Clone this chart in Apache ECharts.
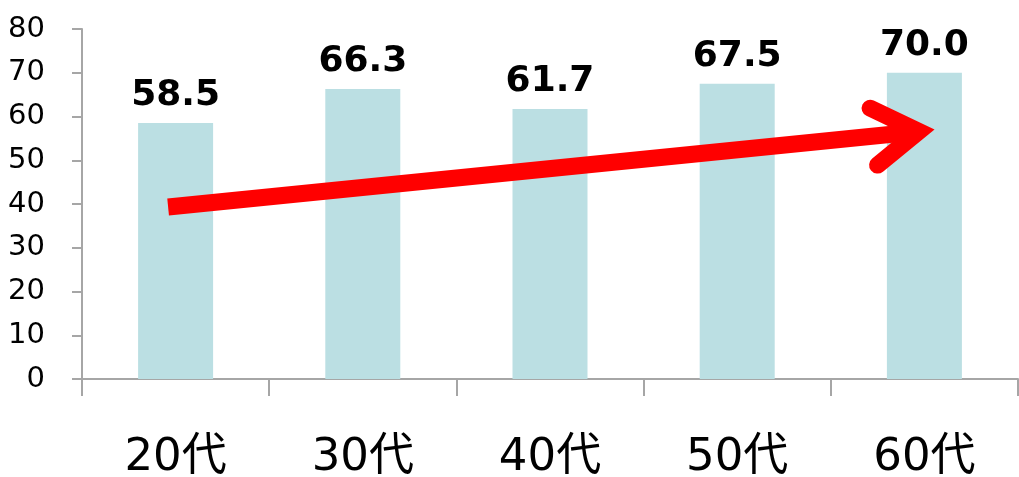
<!DOCTYPE html>
<html>
<head>
<meta charset="utf-8">
<script src="https://cdn.jsdelivr.net/npm/echarts@6/dist/echarts.min.js"></script>
<style>
  html, body { margin: 0; padding: 0; background: #fff; }
  #chart { width: 1019px; height: 477px; }
</style>
</head>
<body>
<div id="chart"></div>
<script>
var ageGroups = ['20代', '30代', '40代', '50代', '60代'];
var rateValues = [58.5, 66.3, 61.7, 67.5, 70.0];
var yTicks = [0, 10, 20, 30, 40, 50, 60, 70, 80];

// trend arrow, in (category position, value) units
var arrowShaft = [[-0.04, 39.3], [3.96, 56.5]];
var arrowHead = [[3.71, 61.9], [3.97, 56.6], [3.75, 48.9]];

var axisGray = '#a6a6a6';

var chart = echarts.init(document.getElementById('chart'));

chart.setOption({
    backgroundColor: '#ffffff',
    animation: false,
    grid: {
        left: 82,
        top: 29,
        width: 936,
        bottom: 98,
        outerBoundsMode: 'none',
        containLabel: false
    },
    xAxis: [
        {
            type: 'category',
            data: ageGroups,
            axisLine: { show: true, lineStyle: { color: axisGray, width: 2 } },
            axisTick: {
                show: true,
                alignWithLabel: false,
                interval: 0,
                length: 17,
                lineStyle: { color: axisGray, width: 2 }
            },
            axisLabel: {
                color: '#000',
                fontSize: 45,
                fontFamily: 'DejaVu Sans, Noto Sans CJK JP',
                margin: 57
            }
        },
        {
            type: 'value',
            min: -0.5,
            max: 4.5,
            show: false
        }
    ],
    yAxis: {
        type: 'value',
        min: yTicks[0],
        max: yTicks[yTicks.length - 1],
        interval: 10,
        splitLine: { show: false },
        axisLine: { show: true, onZero: false, lineStyle: { color: axisGray, width: 2 } },
        axisTick: { show: true, length: 10, lineStyle: { color: axisGray, width: 2 } },
        axisLabel: {
            color: '#000',
            fontSize: 29,
            fontFamily: 'DejaVu Sans',
            margin: 37
        }
    },
    series: [
        {
            type: 'bar',
            data: rateValues,
            barWidth: 75,
            itemStyle: { color: '#bbdfe3' },
            label: {
                show: true,
                position: 'top',
                distance: 9,
                color: '#000',
                fontSize: 36,
                fontWeight: 'bold',
                fontFamily: 'DejaVu Sans',
                formatter: function (p) {
                    return Number(p.value).toFixed(1);
                }
            }
        },
        {
            type: 'line',
            xAxisIndex: 1,
            data: arrowShaft,
            symbol: 'none',
            lineStyle: { color: '#ff0000', width: 17, cap: 'butt' },
            z: 5
        },
        {
            type: 'line',
            xAxisIndex: 1,
            data: arrowHead,
            symbol: 'none',
            lineStyle: { color: '#ff0000', width: 17, cap: 'round', join: 'miter' },
            z: 5
        }
    ]
});
</script>
</body>
</html>
